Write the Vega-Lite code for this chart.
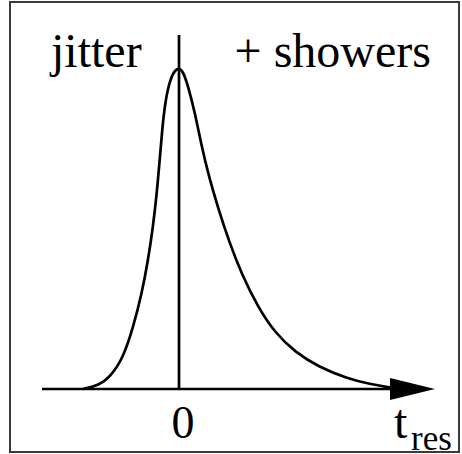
{
  "$schema": "https://vega.github.io/schema/vega-lite/v6.json",
  "width": 449,
  "height": 450,
  "padding": {"left": 10, "top": 2, "right": 3, "bottom": 2},
  "background": "white",
  "view": {"stroke": "#3a3a3a", "strokeWidth": 2},
  "config": {"text": {"font": "Liberation Serif", "color": "black"}},
  "datasets": {
    "curve": [
      {"t": -2.4, "y": 0},
      {"t": -2.0, "y": 1.2},
      {"t": -1.725, "y": 3.7},
      {"t": -1.4, "y": 9.5},
      {"t": -1.15, "y": 19.0},
      {"t": -0.925, "y": 30.0},
      {"t": -0.775, "y": 40.0},
      {"t": -0.65, "y": 50.5},
      {"t": -0.555, "y": 61.0},
      {"t": -0.485, "y": 71.0},
      {"t": -0.42, "y": 81.0},
      {"t": -0.34, "y": 90.0},
      {"t": -0.22, "y": 96.5},
      {"t": -0.1, "y": 99.4},
      {"t": 0, "y": 100},
      {"t": 0.1, "y": 99.0},
      {"t": 0.225, "y": 94.5},
      {"t": 0.4, "y": 86.0},
      {"t": 0.55, "y": 76.5},
      {"t": 0.75, "y": 66.0},
      {"t": 1.0, "y": 55.5},
      {"t": 1.25, "y": 46.0},
      {"t": 1.575, "y": 35.5},
      {"t": 1.975, "y": 25.5},
      {"t": 2.4, "y": 17.5},
      {"t": 2.9, "y": 11.5},
      {"t": 3.5, "y": 6.8},
      {"t": 4.2, "y": 3.3},
      {"t": 4.775, "y": 1.5},
      {"t": 5.3, "y": 0.4}
    ]
  },
  "encoding": {
    "x": {"type": "quantitative", "scale": {"domain": [-4.225, 7.0], "nice": false, "zero": false}, "axis": null},
    "y": {"type": "quantitative", "scale": {"domain": [-19.63, 120.56], "nice": false, "zero": false}, "axis": null}
  },
  "layer": [
    {
      "data": {"values": [{"t": -3.425, "t2": 5.5, "y": 0}]},
      "mark": {"type": "rule", "color": "black", "strokeWidth": 2.7},
      "encoding": {"x": {"field": "t"}, "x2": {"field": "t2"}, "y": {"field": "y"}}
    },
    {
      "data": {"values": [{"t": 0, "y": 0, "y2": 110.3}]},
      "mark": {"type": "rule", "color": "black", "strokeWidth": 2.7},
      "encoding": {"x": {"field": "t"}, "y": {"field": "y"}, "y2": {"field": "y2"}}
    },
    {
      "data": {"values": [{"t": 5.8375, "y": 0}]},
      "mark": {"type": "point", "shape": "M1,0L-1,-0.489L-1,0.489Z", "size": 2025, "filled": true, "color": "black", "opacity": 1, "strokeWidth": 0},
      "encoding": {"x": {"field": "t"}, "y": {"field": "y"}}
    },
    {
      "data": {"name": "curve"},
      "mark": {"type": "line", "color": "black", "strokeWidth": 2.7, "interpolate": "basis"},
      "encoding": {"x": {"field": "t"}, "y": {"field": "y"}}
    },
    {
      "data": {"values": [
        {"t": -3.2, "y": 100.3, "label": "jitter"},
        {"t": 5.375, "y": -15.26, "label": "t"}
      ]},
      "mark": {"type": "text", "baseline": "alphabetic", "align": "left", "fontSize": 48},
      "encoding": {"x": {"field": "t"}, "y": {"field": "y"}, "text": {"field": "label"}}
    },
    {
      "data": {"values": [{"t": 6.3, "y": 100.3, "label": "+ showers"}]},
      "mark": {"type": "text", "baseline": "alphabetic", "align": "right", "fontSize": 48},
      "encoding": {"x": {"field": "t"}, "y": {"field": "y"}, "text": {"field": "label"}}
    },
    {
      "data": {"values": [{"t": 0.1, "y": -15.26, "label": "0"}]},
      "mark": {"type": "text", "baseline": "alphabetic", "align": "center", "fontSize": 46},
      "encoding": {"x": {"field": "t"}, "y": {"field": "y"}, "text": {"field": "label"}}
    },
    {
      "data": {"values": [{"t": 5.8, "y": -19.0, "label": "res"}]},
      "mark": {"type": "text", "baseline": "alphabetic", "align": "left", "fontSize": 35},
      "encoding": {"x": {"field": "t"}, "y": {"field": "y"}, "text": {"field": "label"}}
    }
  ]
}
